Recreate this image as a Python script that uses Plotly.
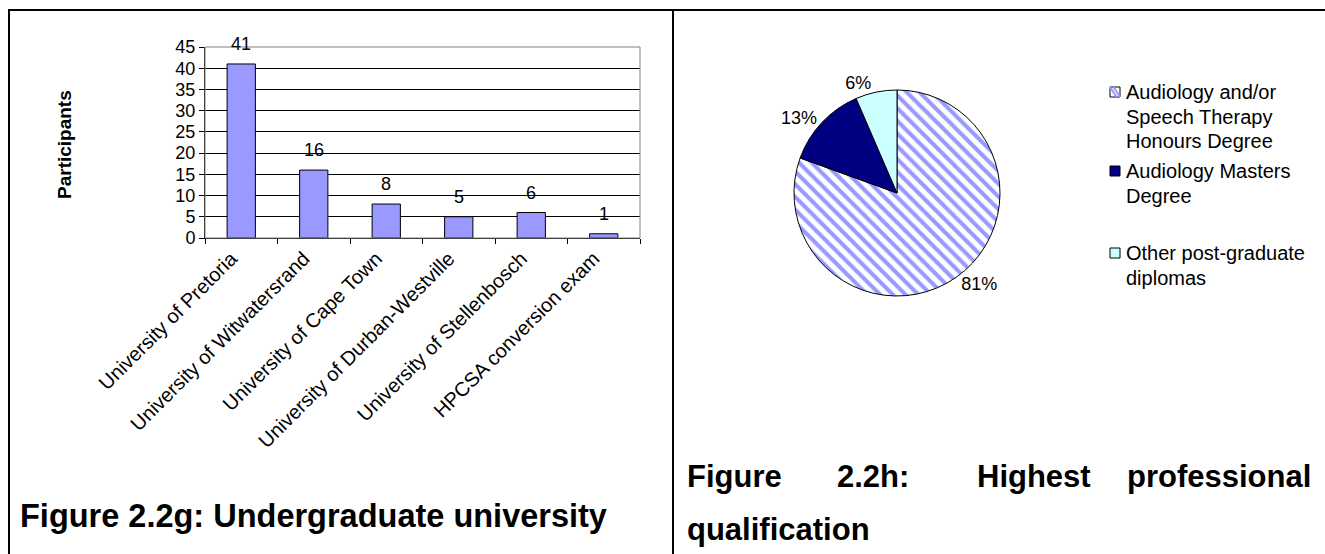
import plotly.graph_objects as go

# ---------------- data ----------------
universities = [
    "University of Pretoria",
    "University of Witwatersrand",
    "University of Cape Town",
    "University of Durban-Westville",
    "University of Stellenbosch",
    "HPCSA conversion exam",
]
participants = [41, 16, 8, 5, 6, 1]
y_ticks = [0, 5, 10, 15, 20, 25, 30, 35, 40, 45]

qualifications = [
    "Audiology and/or Speech Therapy Honours Degree",
    "Audiology Masters Degree",
    "Other post-graduate diplomas",
]
qual_counts = [62, 10, 5]
qual_colors = ["#9999FF", "#000080", "#CCFFFF"]
legend_lines = [
    ["Audiology and/or", "Speech Therapy", "Honours Degree"],
    ["Audiology Masters", "Degree"],
    ["Other post-graduate", "diplomas"],
]

caption_left = "Figure 2.2g: Undergraduate university"
caption_right_words = ["Figure", "2.2h:", "Highest", "professional"]
caption_right_line2 = "qualification"

# ---------------- layout helpers ----------------
W, H = 1325, 554
FONT = "Arial, 'Liberation Sans', sans-serif"


def px(x):
    return x / W


def py(y):
    return 1 - y / H


fig = go.Figure()

fig.add_trace(go.Bar(
    x=universities, y=participants,
    marker=dict(color="#9999FF", line=dict(color="black", width=1)),
    width=0.39, xaxis="x", yaxis="y", showlegend=False,
    hoverinfo="x+y",
))

fig.add_trace(go.Pie(
    labels=qualifications, values=qual_counts, sort=False,
    direction="clockwise", rotation=0,
    marker=dict(colors=qual_colors, line=dict(color="black", width=1),
                pattern=dict(shape=["\\", "", ""], fgcolor="#9999FF",
                             bgcolor="white", size=9, solidity=0.45)),
    texttemplate="%{percent:.0%}", textposition="outside",
    textfont=dict(size=18, color="black", family=FONT),
    domain=dict(x=[px(794), px(1000)], y=[py(296), py(90)]),
    showlegend=False, automargin=False,
))

annotations = []
for u, v in zip(universities, participants):
    annotations.append(dict(x=u, y=v, xref="x", yref="y", text=str(v),
                            showarrow=False, xanchor="center", yanchor="bottom", yshift=8,
                            font=dict(size=18, color="black", family=FONT)))

annotations.append(dict(x=px(65), y=py(145), xref="paper", yref="paper",
                        text="<b>Participants</b>", textangle=-90,
                        xanchor="center", yanchor="middle",
                        showarrow=False, font=dict(size=19, color="black", family=FONT)))

annotations.append(dict(x=px(18), y=py(516), xref="paper", yref="paper",
                        text="<b>" + caption_left + "</b>", xanchor="left", yanchor="middle",
                        showarrow=False, font=dict(size=32.5, color="black", family=FONT)))

word_x = [685, 835, 975, 1313]
for i, (wd, wx) in enumerate(zip(caption_right_words, word_x)):
    annotations.append(dict(x=px(wx), y=py(476), xref="paper", yref="paper",
                            text="<b>" + wd + "</b>",
                            xanchor="right" if i == len(caption_right_words) - 1 else "left",
                            yanchor="middle",
                            showarrow=False, font=dict(size=31, color="black", family=FONT)))
annotations.append(dict(x=px(685), y=py(529), xref="paper", yref="paper",
                        text="<b>" + caption_right_line2 + "</b>", xanchor="left",
                        yanchor="middle",
                        showarrow=False, font=dict(size=31, color="black", family=FONT)))

# manual legend
shapes = []
entry_tops = [92, 171, 253]
for k, (lines, col) in enumerate(zip(legend_lines, qual_colors)):
    for j, ln in enumerate(lines):
        annotations.append(dict(x=px(1124), y=py(entry_tops[k] + j * 24.5), xref="paper",
                                yref="paper", text=ln, xanchor="left", yanchor="middle",
                                showarrow=False,
                                font=dict(size=20, color="black", family=FONT)))
    y0 = entry_tops[k] - 5
    shapes.append(dict(type="rect", xref="paper", yref="paper",
                       x0=px(1110), x1=px(1120), y0=py(y0 + 10), y1=py(y0),
                       fillcolor=col if k else "white", line=dict(color="black", width=1)))
    if k == 0:
        for d in [3, 6.5]:
            shapes.append(dict(type="line", xref="paper", yref="paper",
                               x0=px(1110 + d - 3), y0=py(y0), x1=px(1110 + d + 3.5), y1=py(y0 + 10),
                               line=dict(color="#9999FF", width=2)))

# page borders
shapes += [
    dict(type="line", xref="paper", yref="paper", x0=px(8), x1=1, y0=py(10), y1=py(10),
         line=dict(color="black", width=2)),
    dict(type="line", xref="paper", yref="paper", x0=px(9), x1=px(9), y0=py(10), y1=0,
         line=dict(color="black", width=2)),
    dict(type="line", xref="paper", yref="paper", x0=px(673), x1=px(673), y0=py(10), y1=0,
         line=dict(color="black", width=2)),
    # plot-area border (grey)
    dict(type="rect", xref="x domain", yref="y domain", x0=0, x1=1, y0=0, y1=1,
         line=dict(color="#808080", width=1), layer="above"),
]

fig.update_layout(
    width=W, height=H, margin=dict(l=0, r=0, t=0, b=0, autoexpand=False),
    paper_bgcolor="white", plot_bgcolor="white", showlegend=False,
    font=dict(family=FONT, color="black", size=18),
    xaxis=dict(domain=[px(205), px(640)], anchor="y", type="category",
               tickson="boundaries", ticks="outside", ticklen=5, tickcolor="black",
               showline=True, linecolor="black", linewidth=1, tickangle=-45,
               tickfont=dict(size=20), showgrid=False, automargin=False,
               ticklabelshift=-10),
    yaxis=dict(domain=[py(238), py(47)], anchor="x", range=[0, 45], tickvals=y_ticks,
               ticks="outside", ticklen=5, tickcolor="black", showline=True,
               linecolor="black", linewidth=1, gridcolor="black", gridwidth=1,
               zeroline=False, tickfont=dict(size=18), automargin=False),
    annotations=annotations, shapes=shapes, bargap=0.6,
)

fig.write_html("out.html")
